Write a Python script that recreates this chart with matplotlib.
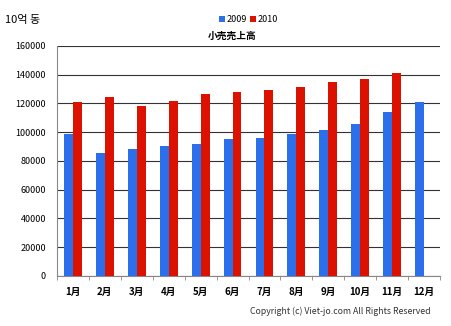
import matplotlib.pyplot as plt
import numpy as np

plt.rcParams['font.family'] = ['Noto Sans CJK JP', 'Noto Sans CJK KR', 'DejaVu Sans']

# Data
months = ['1月', '2月', '3月', '4月', '5月', '6月', '7月', '8月', '9月', '10月', '11月', '12月']
sales_2009 = [99000, 85800, 88600, 90200, 92000, 95300, 96300, 98600, 101800, 105700, 114000, 120900]
sales_2010 = [121300, 124300, 118500, 122000, 126800, 128000, 129400, 131300, 135000, 136900, 141200]
yticks = [0, 20000, 40000, 60000, 80000, 100000, 120000, 140000, 160000]

fig = plt.figure(figsize=(4.51, 3.26), dpi=100)
ax = fig.add_axes([0.1264, 0.1534, 0.8492, 0.7055])

x = np.arange(len(months))
w = 0.28
ax.bar(x - w / 2, sales_2009, width=w, color='#2B6FEA', label='2009', zorder=3)
ax.bar(x[:len(sales_2010)] + w / 2, sales_2010, width=w, color='#DD1100', label='2010', zorder=3)

ax.set_xlim(-0.5, len(months) - 0.5)
ax.set_ylim(0, 160000)
ax.set_yticks(yticks)
ax.set_yticklabels([str(v) for v in yticks], fontsize=6.5)
ax.yaxis.grid(True, color='#333333', linewidth=0.8, zorder=0)
ax.tick_params(axis='y', length=0, pad=8)

ax.set_xticks(x)
ax.set_xticklabels(months, fontsize=7, fontweight='bold')
ax.set_xticks(np.arange(-0.5, len(months)), minor=True)
ax.tick_params(axis='x', which='major', length=0, pad=8)
ax.tick_params(axis='x', which='minor', length=3, color='#888888')

for s in ['top', 'right']:
    ax.spines[s].set_visible(False)
ax.spines['left'].set_color('#888888')
ax.spines['bottom'].set_color('#888888')

fig.text(0.011, 0.94, '10억 동', fontsize=8, va='center')
fig.text(0.515, 0.89, '小売売上高', fontsize=7, ha='center', va='center', fontweight='bold')
ax.legend(loc='lower center', bbox_to_anchor=(0.5, 1.075), ncol=2, frameon=False,
          fontsize=6.5, handlelength=0.6, handleheight=0.6, handletextpad=0.2,
          columnspacing=0.4, borderpad=0)
fig.text(0.955, 0.045, 'Copyright (c) Viet-jo.com All Rights Reserved', fontsize=6.3,
         ha='right', va='center', color='#333333')

plt.savefig('out.png', dpi=100)
